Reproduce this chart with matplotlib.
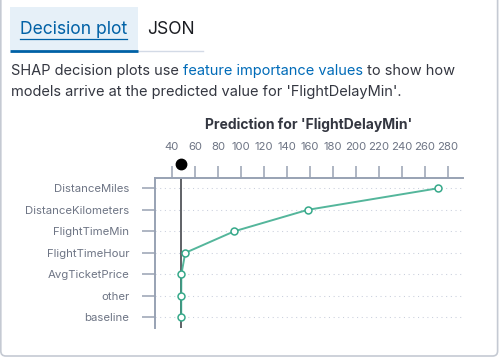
import numpy as np
import matplotlib.pyplot as plt
from matplotlib.patches import FancyBboxPatch, Rectangle
import matplotlib.transforms as mtransforms

# features from bottom (baseline) to top
features = ['baseline', 'other', 'AvgTicketPrice', 'FlightTimeHour',
            'FlightTimeMin', 'DistanceKilometers', 'DistanceMiles']
cum_values = [48, 48, 48.1, 51.5, 94, 158, 271]
base_value = 48
x_ticks = [40, 60, 80, 100, 120, 140, 160, 180, 200, 220, 240, 260, 280]
title = "Prediction for 'FlightDelayMin'"

plt.rcParams['font.family'] = ['Inter', 'DejaVu Sans']

W, H = 499, 358
fig = plt.figure(figsize=(W / 100, H / 100), dpi=100)

# page overlay in pixel coordinates
bg = fig.add_axes([0, 0, 1, 1])
bg.set_xlim(0, W)
bg.set_ylim(H, 0)
bg.axis('off')

bg.add_patch(FancyBboxPatch((0.8, -20), W - 2.2, H - 2 + 20,
                            boxstyle='round,pad=0,rounding_size=5',
                            fc='white', ec='#c5cad3', lw=1.2))
# tabs
bg.add_patch(Rectangle((10, 7), 128, 43, fc='#e6f0f8', ec='none'))
bg.plot([138, 203], [50.5, 50.5], color='#d3dae6', lw=1)
bg.plot([10, 138], [50.5, 50.5], color='#0061a6', lw=2, solid_capstyle='butt')
bg.text(20, 29.5, 'Decision plot', color='#0061a6', fontsize=12.6,
        va='center', ha='left')
bg.plot([20, 127], [38.5, 38.5], color='#0061a6', lw=0.9)
bg.text(147, 29.5, 'JSON', color='#1a1c21', fontsize=12.6, va='center', ha='left')

# description, first line has an inline link
txt = dict(fontsize=10.5, va='center', ha='left')
parts = [('SHAP decision plots use ', '#343741'),
         ('feature importance values', '#006bb8'),
         (' to show how', '#343741')]
renderer = fig.canvas.get_renderer()
x = 11
for s, c in parts:
    t = bg.text(x, 71, s, color=c, **txt)
    bb = t.get_window_extent(renderer)
    x += bb.width
bg.text(11, 92, "models arrive at the predicted value for 'FlightDelayMin'.",
        color='#343741', **txt)

# decision plot
ax = fig.add_axes([155 / W, 1 - 327.7 / H, (463 - 155) / W, (327.7 - 178) / H])
ax.set_facecolor('none')
ypos = np.arange(len(features))

for y in ypos:
    ax.axhline(y, color='#c9cfdc', lw=0.75, linestyle=(0, (1, 3.5)), zorder=1)

ax.axvline(base_value, color='#5f6166', lw=1.4, zorder=2)
ax.plot(cum_values, ypos, color='#36a98a', lw=1.4, alpha=0.85, zorder=3)
ax.plot(cum_values, ypos, linestyle='none', marker='o', ms=5, mfc='white',
        mec='#36a98a', mew=1.1, zorder=4)

trans = mtransforms.blended_transform_factory(ax.transData, ax.transAxes)
ax.plot([base_value], [1.0], transform=trans + mtransforms.ScaledTranslation(0, 14 / 100, fig.dpi_scale_trans),
        marker='o', ms=7.5, color='black', clip_on=False, zorder=5)

ax.set_xlim(25.2, 293)
ax.set_ylim(-0.48, len(features) - 1 + 0.48)
ax.xaxis.tick_top()
ax.set_xticks(x_ticks)
ax.set_yticks(ypos)
ax.set_yticklabels(features)

for s in ['right', 'bottom']:
    ax.spines[s].set_visible(False)
for s in ['top', 'left']:
    ax.spines[s].set_color('#98a2b3')
    ax.spines[s].set_linewidth(1.4)

ax.tick_params(axis='x', length=8.6, width=1.1, color='#98a2b3',
               labelcolor='#6e7585', labelsize=8.2, pad=10)
ax.tick_params(axis='y', length=9.4, width=1.1, color='#98a2b3',
               labelcolor='#6e7585', labelsize=8.2, pad=9)

ax.set_title(title, fontsize=10, fontweight='bold', color='#343741', pad=35)

fig.savefig('out.png', dpi=100)
